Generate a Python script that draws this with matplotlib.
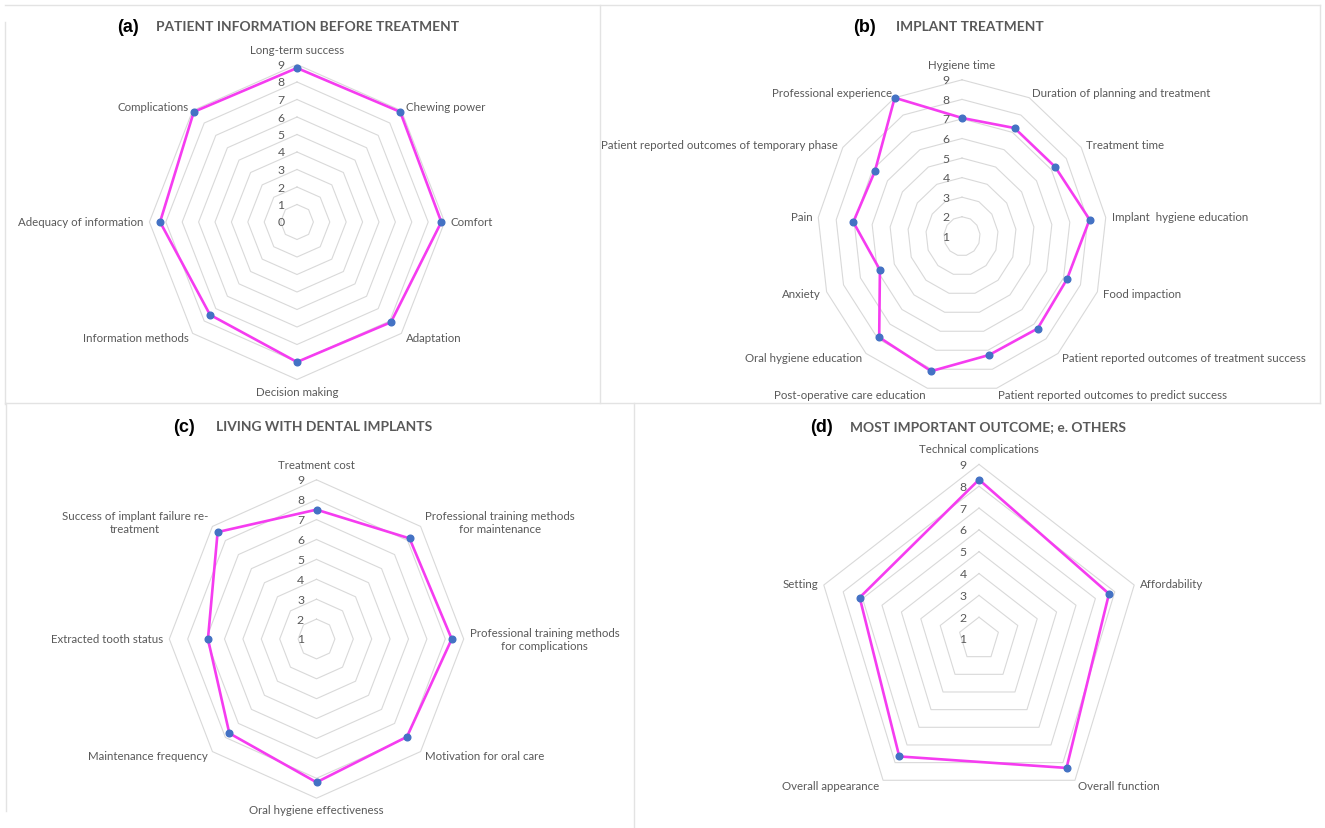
import numpy as np
import matplotlib
matplotlib.use("Agg")
import matplotlib.pyplot as plt
from matplotlib.lines import Line2D

# ---------------------------------------------------------------- data
a_categories = ["Long-term success", "Chewing power", "Comfort", "Adaptation",
                "Decision making", "Information methods", "Adequacy of information",
                "Complications"]
a_values = [8.8, 8.9, 8.8, 8.1, 8.0, 7.5, 8.35, 8.9]
a_ticks = [0, 1, 2, 3, 4, 5, 6, 7, 8, 9]

b_categories = ["Hygiene time", "Duration of planning and treatment", "Treatment time",
                "Implant  hygiene education", "Food impaction",
                "Patient reported outcomes of treatment success",
                "Patient reported outcomes to predict success",
                "Post-operative care education", "Oral hygiene education", "Anxiety",
                "Pain", "Patient reported outcomes of temporary phase",
                "Professional experience"]
b_values = [7.05, 7.25, 7.25, 8.1, 7.2, 7.3, 7.25, 8.1, 7.9, 5.85, 7.05, 6.85, 9.0]
b_ticks = [1, 2, 3, 4, 5, 6, 7, 8, 9]

c_categories = ["Treatment cost", "Professional training methods\nfor maintenance",
                "Professional training methods\nfor complications",
                "Motivation for oral care", "Oral hygiene effectiveness",
                "Maintenance frequency", "Extracted tooth status",
                "Success of implant failure re-\ntreatment"]
c_values = [7.5, 8.15, 8.35, 7.95, 8.2, 7.7, 6.9, 8.6]
c_ticks = [1, 2, 3, 4, 5, 6, 7, 8, 9]

d_categories = ["Technical complications", "Affordability", "Overall function",
                "Overall appearance", "Setting"]
d_values = [8.3, 7.7, 8.3, 7.65, 7.15]
d_ticks = [1, 2, 3, 4, 5, 6, 7, 8, 9]

panel_tags = ["(a)", "(b)", "(c)", "(d)"]
panel_titles = ["PATIENT INFORMATION BEFORE TREATMENT", "IMPLANT TREATMENT",
                "LIVING WITH DENTAL IMPLANTS", "MOST IMPORTANT OUTCOME; e. OTHERS"]

# ---------------------------------------------------------------- styling
W, H, DPI = 1325, 829, 100
GRID = "#D9D9D9"
TEXT = "#595959"
LINE = "#F53CF0"
MARK = "#4472C4"
FONT = ["Lato", "DejaVu Sans"]

fig = plt.figure(figsize=(W / DPI, H / DPI), dpi=DPI)
fig.patch.set_facecolor("white")


def fx(px):
    return px / W


def fy(py):
    return 1 - py / H


def radar(categories, values, ticks, cx, cy, kx, ky):
    """Excel-style radar with polygon gridlines; cx, cy centre in pixels,
    kx, ky pixels per unit along x and y."""
    vmin, vmax = ticks[0], ticks[-1]
    L = 12.0
    ax = fig.add_axes([fx(cx - L * kx), fy(cy + L * ky),
                       2 * L * kx / W, 2 * L * ky / H])
    ax.set_xlim(-L, L)
    ax.set_ylim(-L, L)
    ax.set_aspect("auto")
    ax.axis("off")

    n = len(categories)
    theta = 2 * np.pi * np.arange(n) / n
    s, c = np.sin(theta), np.cos(theta)
    sc = np.append(s, s[0])
    cc = np.append(c, c[0])

    for t in ticks[1:]:
        r = t - vmin
        ax.plot(r * sc, r * cc, color=GRID, lw=0.8, zorder=1)

    r = np.array(values) - vmin
    rc = np.append(r, r[0])
    ax.plot(rc * sc, rc * cc, color=LINE, lw=1.9, zorder=3,
            solid_joinstyle="miter")
    ax.plot(r * s, r * c, "o", color=MARK, ms=4.8, zorder=4, mec=MARK)

    for t in ticks:
        ax.annotate(str(t), xy=(0, t - vmin), xytext=(-9, 0),
                    textcoords="offset points", ha="right", va="center",
                    fontsize=8.8, color=TEXT, family=FONT)

    rmax = vmax - vmin
    d = 6 * 72 / DPI
    for k, lab in enumerate(categories):
        sk, ck = s[k], c[k]
        if sk > 0.1:
            ha = "left"
        elif sk < -0.1:
            ha = "right"
        else:
            ha = "center"
        if ck > 0.995:
            va = "bottom"
            off = (0, 10 * 72 / DPI)
        elif ck < -0.995:
            va = "top"
            off = (0, -d)
        else:
            va = "center"
            off = (sk * d, ck * d)
        ax.annotate(lab, xy=(rmax * sk, rmax * ck), xytext=off,
                    textcoords="offset points", ha=ha, va=va,
                    fontsize=8.3, color=TEXT, family=FONT,
                    multialignment="center", linespacing=1.25)
    return ax


radar(a_categories, a_values, a_ticks, 297, 223, 16.4, 17.5)
radar(b_categories, b_values, b_ticks, 962, 237.3, 18.1, 19.56)
radar(c_categories, c_values, c_ticks, 316.5, 640, 18.4, 19.9)
radar(d_categories, d_values, d_ticks, 979, 640, 20.4, 21.83)

# panel headings: tag x, title x, centre y
heading_pos = [(117, 156, 27), (853, 896, 27), (173, 216, 427), (810, 850, 427)]
for tag, title, (xt, xh, yc) in zip(panel_tags, panel_titles, heading_pos):
    fig.text(fx(xt), fy(yc), tag, ha="left", va="center", fontsize=13,
             fontweight="bold", color="black", family=["Liberation Sans", "DejaVu Sans"])
    fig.text(fx(xh), fy(yc), title, ha="left", va="center", fontsize=9.9,
             fontweight="bold", color=TEXT, family=FONT)

# panel frame lines
frame = [((5, 6), (1320, 6)), ((5, 23), (5, 405)), ((600, 6), (600, 404)),
         ((1320, 6), (1320, 404)), ((5, 404), (1320, 404)),
         ((6, 404), (6, 812)), ((634, 404), (634, 829))]
for (x0, y0), (x1, y1) in frame:
    fig.add_artist(Line2D([fx(x0), fx(x1)], [fy(y0), fy(y1)],
                          transform=fig.transFigure, color="#E3E3E3", lw=1))

fig.savefig("out.png", dpi=DPI, facecolor="white")
